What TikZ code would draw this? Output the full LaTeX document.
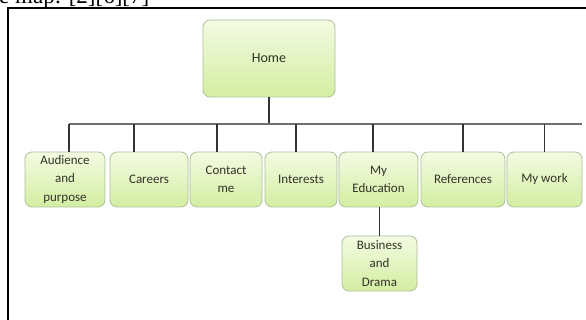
\documentclass[tikz,border=0pt]{standalone}
\usepackage{fontspec}
\setmainfont{Carlito}
\newfontfamily\serifhead{Liberation Serif}
\definecolor{boxtop}{HTML}{F3FBE2}
\definecolor{boxbot}{HTML}{D3EEA2}
\definecolor{boxline}{HTML}{AEBF98}
\definecolor{txt}{HTML}{333328}
\definecolor{linedark}{HTML}{333333}
\definecolor{linegray}{HTML}{6E6E6E}
\begin{document}
\begin{tikzpicture}[x=1pt,y=-1pt,
  pagebox/.style={draw=boxline,line width=0.8pt,rounded corners=7pt,
    top color=boxtop,bottom color=boxbot,inner sep=0pt,align=center,
    text=txt,font=\fontsize{13}{18.5}\selectfont,minimum height=55pt},
  conn/.style={draw=linedark,line width=1.8pt},
  busline/.style={draw=linegray,line width=2pt}]
\useasboundingbox (0,0) rectangle (586,320);
\fill[white] (0,0) rectangle (586,320);
% clipped heading text above the frame
\node[anchor=base west,inner sep=0pt,font=\serifhead\fontsize{23}{23}\selectfont] (head) at (-1,3.5) {e map: [2][6][7]};
% frame
\draw[line width=2.5pt,black] (8,322) -- (8,8) -- (588,8);
% nodes
\node[pagebox,minimum width=132pt,minimum height=77pt,font=\fontsize{14}{18}\selectfont] (home) at (269,58.5) {Home};
\node[pagebox,minimum width=80pt] (aud) at (65,179.5) {Audience\\and\\purpose};
\node[pagebox,minimum width=78pt] (car) at (149,179.5) {Careers};
\node[pagebox,minimum width=72pt] (con) at (226,179.5) {Contact\\me};
\node[pagebox,minimum width=72pt] (int) at (301,179.5) {Interests};
\node[pagebox,minimum width=79pt] (edu) at (378.5,179.5) {My\\Education};
\node[pagebox,minimum width=84pt] (ref) at (463,179.5) {References};
\node[pagebox,minimum width=75pt] (work) at (544.5,179.5) {My work};
\node[pagebox,minimum width=75pt] (bus) at (379.5,263.5) {Business\\and\\Drama};
% connectors
\coordinate (busL) at (69,124);
\coordinate (busR) at (582,124);
\draw[conn] (home.south) -- (home.south |- busL);
\draw[busline] (busL) -- (busR);
\draw[conn] ([xshift=4pt]aud.north) -- ([xshift=4pt]aud.north |- busL);
\draw[conn] ([xshift=-15pt]car.north) -- ([xshift=-15pt]car.north |- busL);
\draw[conn] ([xshift=-9pt]con.north) -- ([xshift=-9pt]con.north |- busL);
\draw[conn] ([xshift=-5pt]int.north) -- ([xshift=-5pt]int.north |- busL);
\draw[conn] ([xshift=-5.5pt]edu.north) -- ([xshift=-5.5pt]edu.north |- busL);
\draw[conn] (ref.north) -- (ref.north |- busL);
\draw[conn] (work.north) -- (work.north |- busL);
\draw[conn] (bus.north) -- (bus.north |- edu.south);
\end{tikzpicture}
\end{document}
